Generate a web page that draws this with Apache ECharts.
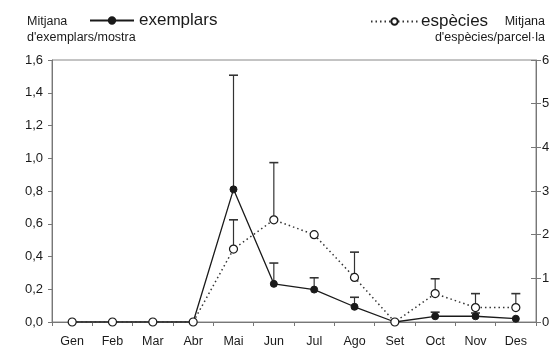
<!DOCTYPE html>
<html><head><meta charset="utf-8">
<script src="https://cdn.jsdelivr.net/npm/echarts@6/dist/echarts.min.js"></script>
<style>html,body{margin:0;padding:0;background:#fff}#c{width:557px;height:348px}</style>
</head><body><div id="c"></div>
<script>
const months = ['Gen','Feb','Mar','Abr','Mai','Jun','Jul','Ago','Set','Oct','Nov','Des'];
const exemplars = [0,0,0,0,0.81,0.233,0.198,0.093,0,0.035,0.035,0.02];
const exemplarsErr = [null,null,null,null,1.507,0.36,0.27,0.151,null,0.06,0.055,null];
const especies = [0,0,0,0,1.67,2.34,2.0,1.02,0,0.65,0.33,0.33];
const especiesErr = [null,null,null,null,2.34,3.65,null,1.6,null,0.99,0.65,0.65];
const leftTicks = {min:0,max:1.6,interval:0.2};
const rightTicks = {min:0,max:6,interval:1};

const font = 'Liberation Sans, Arial, Helvetica, sans-serif';
const ink = '#1a1a1a';

function errSeries(vals, errs, axisIndex){
  const data = [];
  vals.forEach((v,i)=>{ if(errs[i]!=null) data.push([i, v, errs[i]]); });
  return {
    type:'custom', yAxisIndex:axisIndex, z:1, silent:true,
    data:data,
    renderItem:function(params, api){
      const lo = api.coord([api.value(0), api.value(1)]);
      const hi = api.coord([api.value(0), api.value(2)]);
      const w = 4.5;
      return {type:'group', children:[
        {type:'line', shape:{x1:lo[0],y1:lo[1],x2:hi[0],y2:hi[1]}, style:{stroke:'#333',lineWidth:1.2}},
        {type:'line', shape:{x1:hi[0]-w,y1:hi[1],x2:hi[0]+w,y2:hi[1]}, style:{stroke:'#333',lineWidth:1.6}}
      ]};
    }
  };
}

const chart = echarts.init(document.getElementById('c'), null, {renderer:'canvas'});
chart.setOption({
  animation:false,
  backgroundColor:'#fff',
  grid:{left:52,right:21,top:60,bottom:25,show:true,borderColor:'#888',borderWidth:1,backgroundColor:'transparent'},
  legend:[
    {data:['exemplars'], left:89, top:12, padding:0, itemWidth:44, itemHeight:8, itemGap:0,
     textStyle:{fontFamily:font,fontSize:17,color:ink,padding:[0,0,0,0]}},
    {data:['espècies'], left:370, top:13, padding:0, itemWidth:47, itemHeight:8,
     textStyle:{fontFamily:font,fontSize:17,color:ink,padding:[0,0,0,-2]}}
  ],
  graphic:[
    {type:'text', left:27, top:15, style:{text:'Mitjana', font:'12.5px '+font, fill:ink}},
    {type:'text', left:27, top:31, style:{text:"d'exemplars/mostra", font:'12.5px '+font, fill:ink}},
    {type:'text', right:12, top:15, style:{text:'Mitjana', font:'12.5px '+font, fill:ink, align:'right'}},
    {type:'text', right:12, top:31, style:{text:"d'espècies/parcel·la", font:'12.5px '+font, fill:ink, align:'right'}}
  ],
  xAxis:{type:'category', data:months, boundaryGap:true,
    axisLine:{lineStyle:{color:'#777',width:1}},
    axisTick:{show:true, inside:false, length:4, lineStyle:{color:'#777'}},
    axisLabel:{fontFamily:font,fontSize:12.5,color:ink,margin:13},
    splitLine:{show:false}},
  yAxis:[
    {type:'value', position:'left', min:leftTicks.min, max:leftTicks.max, interval:leftTicks.interval,
     axisLine:{show:true,lineStyle:{color:'#777'}},
     axisTick:{show:true,length:4,lineStyle:{color:'#777'}},
     axisLabel:{fontFamily:font,fontSize:13,color:ink,margin:9,formatter:v=>v.toFixed(1).replace('.',',')},
     splitLine:{show:false}},
    {type:'value', position:'right', min:rightTicks.min, max:rightTicks.max, interval:rightTicks.interval,
     axisLine:{show:true,lineStyle:{color:'#777'}},
     axisTick:{show:true,length:5,lineStyle:{color:'#777'}},
     axisLabel:{fontFamily:font,fontSize:13,color:ink,margin:6},
     splitLine:{show:false}},
    {type:'value', position:'right', min:rightTicks.min, max:rightTicks.max, interval:rightTicks.interval,
     axisLine:{show:false},
     axisTick:{show:true,inside:true,length:5,lineStyle:{color:'#777'}},
     axisLabel:{show:false},
     splitLine:{show:false}}
  ],
  series:[
    errSeries(exemplars, exemplarsErr, 0),
    errSeries(especies, especiesErr, 1),
    {name:'exemplars', type:'line', yAxisIndex:0, data:exemplars, z:3,
     symbol:'circle', symbolSize:7, showAllSymbol:true,
     lineStyle:{color:ink,width:1.3,type:'solid'},
     itemStyle:{color:ink,borderColor:ink,borderWidth:1}},
    {name:'espècies', type:'line', yAxisIndex:1, data:especies, z:4,
     symbol:'circle', symbolSize:8, showAllSymbol:true,
     lineStyle:{color:'#333',width:1.5,type:[1.5,3]},
     itemStyle:{color:'#fff',borderColor:ink,borderWidth:1.2}}
  ]
});
</script></body></html>
